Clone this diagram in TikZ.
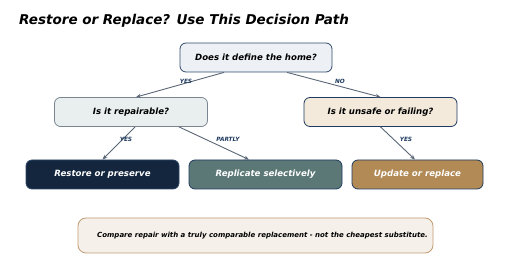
\documentclass[tikz,border=0pt]{standalone}
\usepackage{fontspec}
\setmainfont{DejaVu Sans}
\usetikzlibrary{arrows.meta}
\definecolor{navy}{HTML}{1F3A5F}
\definecolor{bordera}{HTML}{2F4A68}
\definecolor{fillA}{HTML}{EDF1F5}
\definecolor{fillB}{HTML}{E8EFEE}
\definecolor{fillC}{HTML}{F3EADC}
\definecolor{fillD}{HTML}{13263E}
\definecolor{fillE}{HTML}{5B7876}
\definecolor{fillF}{HTML}{B28A56}
\definecolor{noteFill}{HTML}{F5F0E9}
\definecolor{noteBorder}{HTML}{C19B72}
\definecolor{arrowc}{HTML}{5A6676}
\begin{document}
\begin{tikzpicture}[x=1pt,y=-1pt,
  box/.style={draw=bordera,line width=0.8pt,rounded corners=6pt,inner sep=0pt,
    font=\fontsize{8.6}{10}\selectfont\bfseries\itshape},
  qbox/.style={box,minimum width=153pt,minimum height=29pt,text=black},
  abox/.style={box,minimum height=29pt,text=white,font=\fontsize{8.6}{10}\selectfont\bfseries\itshape},
  conn/.style={draw=arrowc,line width=0.9pt,-{Stealth[length=5pt,width=4pt]}},
  lbl/.style={text=navy,font=\fontsize{5.8}{6}\selectfont\bfseries\itshape,inner sep=0pt}]
\useasboundingbox (0,0) rectangle (512,272);
\node[anchor=base west,inner sep=0pt,font=\fontsize{13.5}{16}\selectfont\bfseries\itshape] (title) at (19,25) {Restore or Replace? Use This Decision Path};
\node[qbox,fill=fillA,minimum width=152pt] (b1) at (256,57.5) {Does it define the home?};
\node[qbox,fill=fillB,draw=arrowc!80] (b2) at (131,112) {Is it repairable?};
\node[qbox,fill=fillC,draw=navy] (b3) at (380.5,112) {Is it unsafe or failing?};
\node[abox,fill=fillD,draw=bordera,minimum width=153pt] (b4) at (102.5,174.5) {Restore or preserve};
\node[abox,fill=fillE,draw=navy,minimum width=153pt] (b5) at (265.5,174.5) {Replicate selectively};
\node[abox,fill=fillF,draw=navy,minimum width=131pt] (b6) at (417.5,174.5) {Update or replace};
\node[draw=noteBorder,fill=noteFill,line width=0.8pt,rounded corners=8pt,minimum width=355pt,minimum height=35pt,inner sep=0pt,
  font=\fontsize{7}{8}\selectfont\bfseries\itshape] (note) at (255.5,235.5) {\hspace*{14pt}Compare repair with a truly comparable replacement - not the cheapest substitute.};
\draw[conn] ([xshift=-32pt]b1.south) -- ([xshift=5pt]b2.north);
\draw[conn] ([xshift=31pt]b1.south) -- (b3.north);
\draw[conn] ([xshift=4pt]b2.south) -- (b4.north);
\draw[conn] ([xshift=48pt]b2.south) -- ([xshift=-16.5pt]b5.north);
\draw[conn] (b3.south) -- ([xshift=-2.5pt]b6.north);
\node[lbl] (l1) at (186,81) {YES};
\node[lbl] (l2) at (340,81) {NO};
\node[lbl] (l3) at (126,139.5) {YES};
\node[lbl] (l4) at (228,139.5) {PARTLY};
\node[lbl] (l5) at (406,139.5) {YES};
\end{tikzpicture}
\end{document}
